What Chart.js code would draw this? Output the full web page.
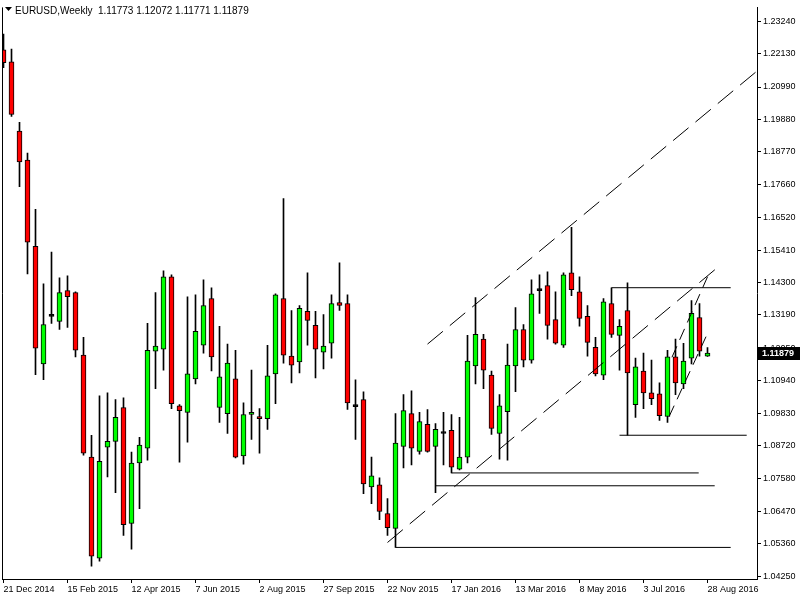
<!DOCTYPE html>
<html>
<head>
<meta charset="utf-8">
<title>EURUSD, Weekly</title>
<script src="https://cdn.jsdelivr.net/npm/chart.js@4.4.0/dist/chart.umd.min.js"></script>
<style>
  html, body { margin: 0; padding: 0; background: #fff; }
  canvas { display: block; }
</style>
</head>
<body>
<canvas id="chart" width="800" height="600"></canvas>
<script>
// Weekly candles, 21 Dec 2014 .. 28 Aug 2016 (one entry per week)
const opens = [
  1.2226, 1.2185, 1.1948, 1.1849, 1.1554, 1.1151, 1.1314, 1.1297, 1.1402, 1.1395,
  1.1181, 1.0832, 1.0486, 1.0866, 1.0886, 1.1002, 1.0605, 1.0812, 1.0863, 1.1195,
  1.1202, 1.1449, 1.1008, 1.0985, 1.1100, 1.1215, 1.1375, 1.1002, 1.0981, 1.1100,
  1.0836, 1.0978, 1.0971, 1.0964, 1.1117, 1.1375, 1.1178, 1.1158, 1.1331, 1.1283,
  1.1191, 1.1222, 1.1361, 1.1358, 1.1005, 1.1029, 1.0730, 1.0737, 1.0639, 1.0588,
  1.0869, 1.0981, 1.0852, 1.0944, 1.0869, 1.0913, 1.0924, 1.0791, 1.0832, 1.1144,
  1.1236, 1.1113, 1.0913, 1.0988, 1.1144, 1.1269, 1.1164, 1.1402, 1.1419, 1.1303,
  1.1215, 1.1463, 1.1398, 1.1314, 1.1208, 1.1113, 1.1358, 1.1249, 1.1334, 1.1012,
  1.1127, 1.1052, 1.1049, 1.0971, 1.1175, 1.1083, 1.1171, 1.1310, 1.11773
];
const highs = [
  1.2280, 1.2229, 1.1978, 1.1873, 1.1680, 1.1425, 1.1534, 1.1446, 1.1453, 1.1398,
  1.1242, 1.0907, 1.1042, 1.1052, 1.1029, 1.1035, 1.0849, 1.0900, 1.1290, 1.1395,
  1.1470, 1.1456, 1.1012, 1.1381, 1.1388, 1.1439, 1.1412, 1.1280, 1.1219, 1.1198,
  1.1018, 1.1130, 1.0998, 1.1215, 1.1391, 1.1717, 1.1334, 1.1351, 1.1463, 1.1331,
  1.1320, 1.1388, 1.1497, 1.1388, 1.1097, 1.1056, 1.0832, 1.0761, 1.0690, 1.0981,
  1.1046, 1.1059, 1.0985, 1.0995, 1.0947, 1.0985, 1.0978, 1.0968, 1.1249, 1.1378,
  1.1252, 1.1127, 1.1046, 1.1219, 1.1344, 1.1286, 1.1439, 1.1456, 1.1466, 1.1398,
  1.1463, 1.1619, 1.1449, 1.1351, 1.1242, 1.1375, 1.1412, 1.1303, 1.1429, 1.1171,
  1.1188, 1.1164, 1.1086, 1.1198, 1.1236, 1.1222, 1.1368, 1.1358, 1.12072
];
const lows = [
  1.2165, 1.1998, 1.1758, 1.1459, 1.1114, 1.1097, 1.1290, 1.1269, 1.1276, 1.1175,
  1.0839, 1.0459, 1.0476, 1.0764, 1.0710, 1.0564, 1.0517, 1.0656, 1.0822, 1.1066,
  1.1130, 1.0998, 1.0815, 1.0883, 1.1083, 1.1188, 1.1127, 1.0951, 1.0913, 1.0829,
  1.0808, 1.0893, 1.0846, 1.0927, 1.1015, 1.1154, 1.1086, 1.1120, 1.1215, 1.1103,
  1.1134, 1.1171, 1.1334, 1.0995, 1.0893, 1.0707, 1.0673, 1.0618, 1.0564, 1.0523,
  1.0795, 1.0805, 1.0842, 1.0849, 1.0710, 1.0805, 1.0778, 1.0788, 1.0812, 1.1083,
  1.1066, 1.0910, 1.0825, 1.0822, 1.1056, 1.1141, 1.1154, 1.1324, 1.1236, 1.1219,
  1.1208, 1.1385, 1.1280, 1.1178, 1.1110, 1.1097, 1.1242, 1.1130, 1.0907, 1.0968,
  1.0998, 1.1012, 1.0958, 1.0951, 1.1046, 1.1066, 1.1151, 1.1178, 1.11771
];
const closes = [
  1.2182, 1.2005, 1.1843, 1.1568, 1.1205, 1.1286, 1.1314, 1.1395, 1.1381, 1.1198,
  1.0846, 1.0493, 1.0818, 1.0886, 1.0968, 1.0601, 1.0812, 1.0873, 1.1198, 1.1212,
  1.1449, 1.1015, 1.0991, 1.1117, 1.1263, 1.1351, 1.1175, 1.1107, 1.1154, 1.0832,
  1.0978, 1.0985, 1.0964, 1.1110, 1.1388, 1.1181, 1.1147, 1.1341, 1.1300, 1.1202,
  1.1212, 1.1358, 1.1351, 1.1018, 1.1005, 1.0740, 1.0768, 1.0646, 1.0591, 1.0880,
  1.0991, 1.0863, 1.0954, 1.0852, 1.0927, 1.0913, 1.0798, 1.0832, 1.1161, 1.1252,
  1.1130, 1.0930, 1.1008, 1.1147, 1.1269, 1.1164, 1.1391, 1.1402, 1.1283, 1.1222,
  1.1456, 1.1405, 1.1307, 1.1225, 1.1117, 1.1364, 1.1252, 1.1280, 1.1120, 1.1141,
  1.1052, 1.1032, 1.0974, 1.1175, 1.1086, 1.1161, 1.1324, 1.1195, 1.11879
];

// time axis: a label every 8 weeks
const dateTicks = [0, 8, 16, 24, 32, 40, 48, 56, 64, 72, 80, 88];
const dateLabels = ['21 Dec 2014', '15 Feb 2015', '12 Apr 2015', '7 Jun 2015', '2 Aug 2015', '27 Sep 2015',
  '22 Nov 2015', '17 Jan 2016', '13 Mar 2016', '8 May 2016', '3 Jul 2016', '28 Aug 2016'];

// price axis labels
const priceTicks = [1.2324, 1.2213, 1.2099, 1.1988, 1.1877, 1.1766, 1.1652, 1.1541, 1.1430,
  1.1319, 1.1205, 1.1094, 1.0983, 1.0872, 1.0758, 1.0647, 1.0536, 1.0425];

// drawn objects: [week index], [price]
const upperChannelX = [53, 94.25];
const upperChannelY = [1.1219, 1.2155];
const lowerChannelX = [48, 89.2];
const lowerChannelY = [1.0540, 1.1480];
const steepLowerX = [83.2, 88.06];
const steepLowerY = [1.0971, 1.1259];
const steepUpperX = [83.56, 88.06];
const steepUpperY = [1.1174, 1.1453];
const hTopX = [76, 90.9];
const hTopY = 1.1412;
const hMidX = [77, 92.9];
const hMidY = 1.0907;
const hLowAX = [56, 86.9];
const hLowAY = 1.0778;
const hLowBX = [54, 88.9];
const hLowBY = 1.0734;
const hLowCX = [49, 90.9];
const hLowCY = 1.0523;

const FONT = 'Liberation Sans';

document.addEventListener('DOMContentLoaded', function() {
    const idx = opens.map((_, i) => i);
    const wickData = idx.map(i => ({ x: i, y: [lows[i], highs[i]] }));
    const bodyData = idx.map(i => ({ x: i, y: [Math.min(opens[i], closes[i]), Math.max(opens[i], closes[i])] }));
    const bodyColors = idx.map(i => closes[i] > opens[i] ? '#00ff00' : (closes[i] < opens[i] ? '#ff0000' : '#000000'));

    function line(xs, ys, dash) {
        return {
            type: 'line',
            data: xs.map((x, k) => ({ x: x, y: ys[k] })),
            borderColor: '#000',
            borderWidth: 1,
            borderDash: dash || [],
            pointRadius: 0,
            fill: false,
            tension: 0,
            order: 0
        };
    }

    const last = opens.length - 1;

    // frame, MT4 header and current price marker
    const decorations = {
        id: 'decorations',
        afterDraw(chart) {
            const ctx = chart.ctx;
            const area = chart.chartArea;
            ctx.save();
            ctx.strokeStyle = '#000';
            ctx.lineWidth = 1;
            ctx.beginPath();
            ctx.moveTo(area.left + 0.5, area.top);
            ctx.lineTo(area.left + 0.5, area.bottom);
            ctx.stroke();

            // header
            ctx.fillStyle = '#000';
            ctx.beginPath();
            ctx.moveTo(5, 7);
            ctx.lineTo(12, 7);
            ctx.lineTo(8.5, 11);
            ctx.closePath();
            ctx.fill();
            ctx.font = '10px "' + FONT + '"';
            ctx.textBaseline = 'alphabetic';
            ctx.textAlign = 'left';
            ctx.fillText('EURUSD,Weekly', 15, 14);
            const ohlc = [opens[last], highs[last], lows[last], closes[last]].map(v => v.toFixed(5)).join(' ');
            ctx.fillText(ohlc, 98, 14);

            // last price box on the axis
            const y = Math.round(chart.scales.y.getPixelForValue(closes[last]));
            ctx.fillStyle = '#000';
            ctx.fillRect(area.right, y - 6, 43, 13);
            ctx.fillStyle = '#fff';
            ctx.font = 'bold 9px "' + FONT + '"';
            ctx.textBaseline = 'middle';
            ctx.fillText(closes[last].toFixed(5), area.right + 5, y + 0.5);
            ctx.restore();
        }
    };

    new Chart(document.getElementById('chart'), {
        type: 'bar',
        data: {
            datasets: [
                line(upperChannelX, upperChannelY, [20, 9]),
                line(lowerChannelX, lowerChannelY, [20, 9]),
                line(steepLowerX, steepLowerY, [12, 7]),
                line(steepUpperX, steepUpperY, [12, 7]),
                line(hTopX, [hTopY, hTopY]),
                line(hMidX, [hMidY, hMidY]),
                line(hLowAX, [hLowAY, hLowAY]),
                line(hLowBX, [hLowBY, hLowBY]),
                line(hLowCX, [hLowCY, hLowCY]),
                {
                    label: 'body',
                    data: bodyData,
                    backgroundColor: bodyColors,
                    borderColor: '#000',
                    borderWidth: 1,
                    borderSkipped: false,
                    barThickness: 5,
                    minBarLength: 2,
                    grouped: false,
                    order: 1
                },
                {
                    label: 'wick',
                    data: wickData,
                    backgroundColor: '#000',
                    borderWidth: 0,
                    barThickness: 1,
                    grouped: false,
                    order: 2
                }
            ]
        },
        options: {
            responsive: false,
            animation: false,
            devicePixelRatio: 1,
            layout: { padding: { left: 2, top: 2, right: 0, bottom: 0 } },
            plugins: { legend: { display: false }, tooltip: { enabled: false } },
            scales: {
                x: {
                    type: 'linear',
                    min: -0.1875,
                    max: 94.1875,
                    offset: false,
                    afterBuildTicks: s => { s.ticks = dateTicks.map(v => ({ value: v })); },
                    afterFit: s => { s.height = 21; },
                    ticks: {
                        autoSkip: false,
                        maxRotation: 0,
                        align: 'start',
                        padding: 1,
                        color: '#000',
                        font: { family: FONT, size: 9 },
                        callback: (v, i) => dateLabels[i]
                    },
                    grid: { drawOnChartArea: false, offset: false, tickLength: 4, color: '#000' },
                    border: { color: '#000' }
                },
                y: {
                    type: 'linear',
                    position: 'right',
                    min: 1.04149,
                    max: 1.23715,
                    afterBuildTicks: s => { s.ticks = priceTicks.map(v => ({ value: v })); },
                    afterFit: s => { s.width = 43; },
                    ticks: {
                        autoSkip: false,
                        padding: 2,
                        color: '#000',
                        font: { family: FONT, size: 9 },
                        callback: v => v.toFixed(5)
                    },
                    grid: { drawOnChartArea: false, tickLength: 4, color: '#000' },
                    border: { color: '#000' }
                }
            }
        },
        plugins: [decorations]
    });
});
</script>
</body>
</html>
